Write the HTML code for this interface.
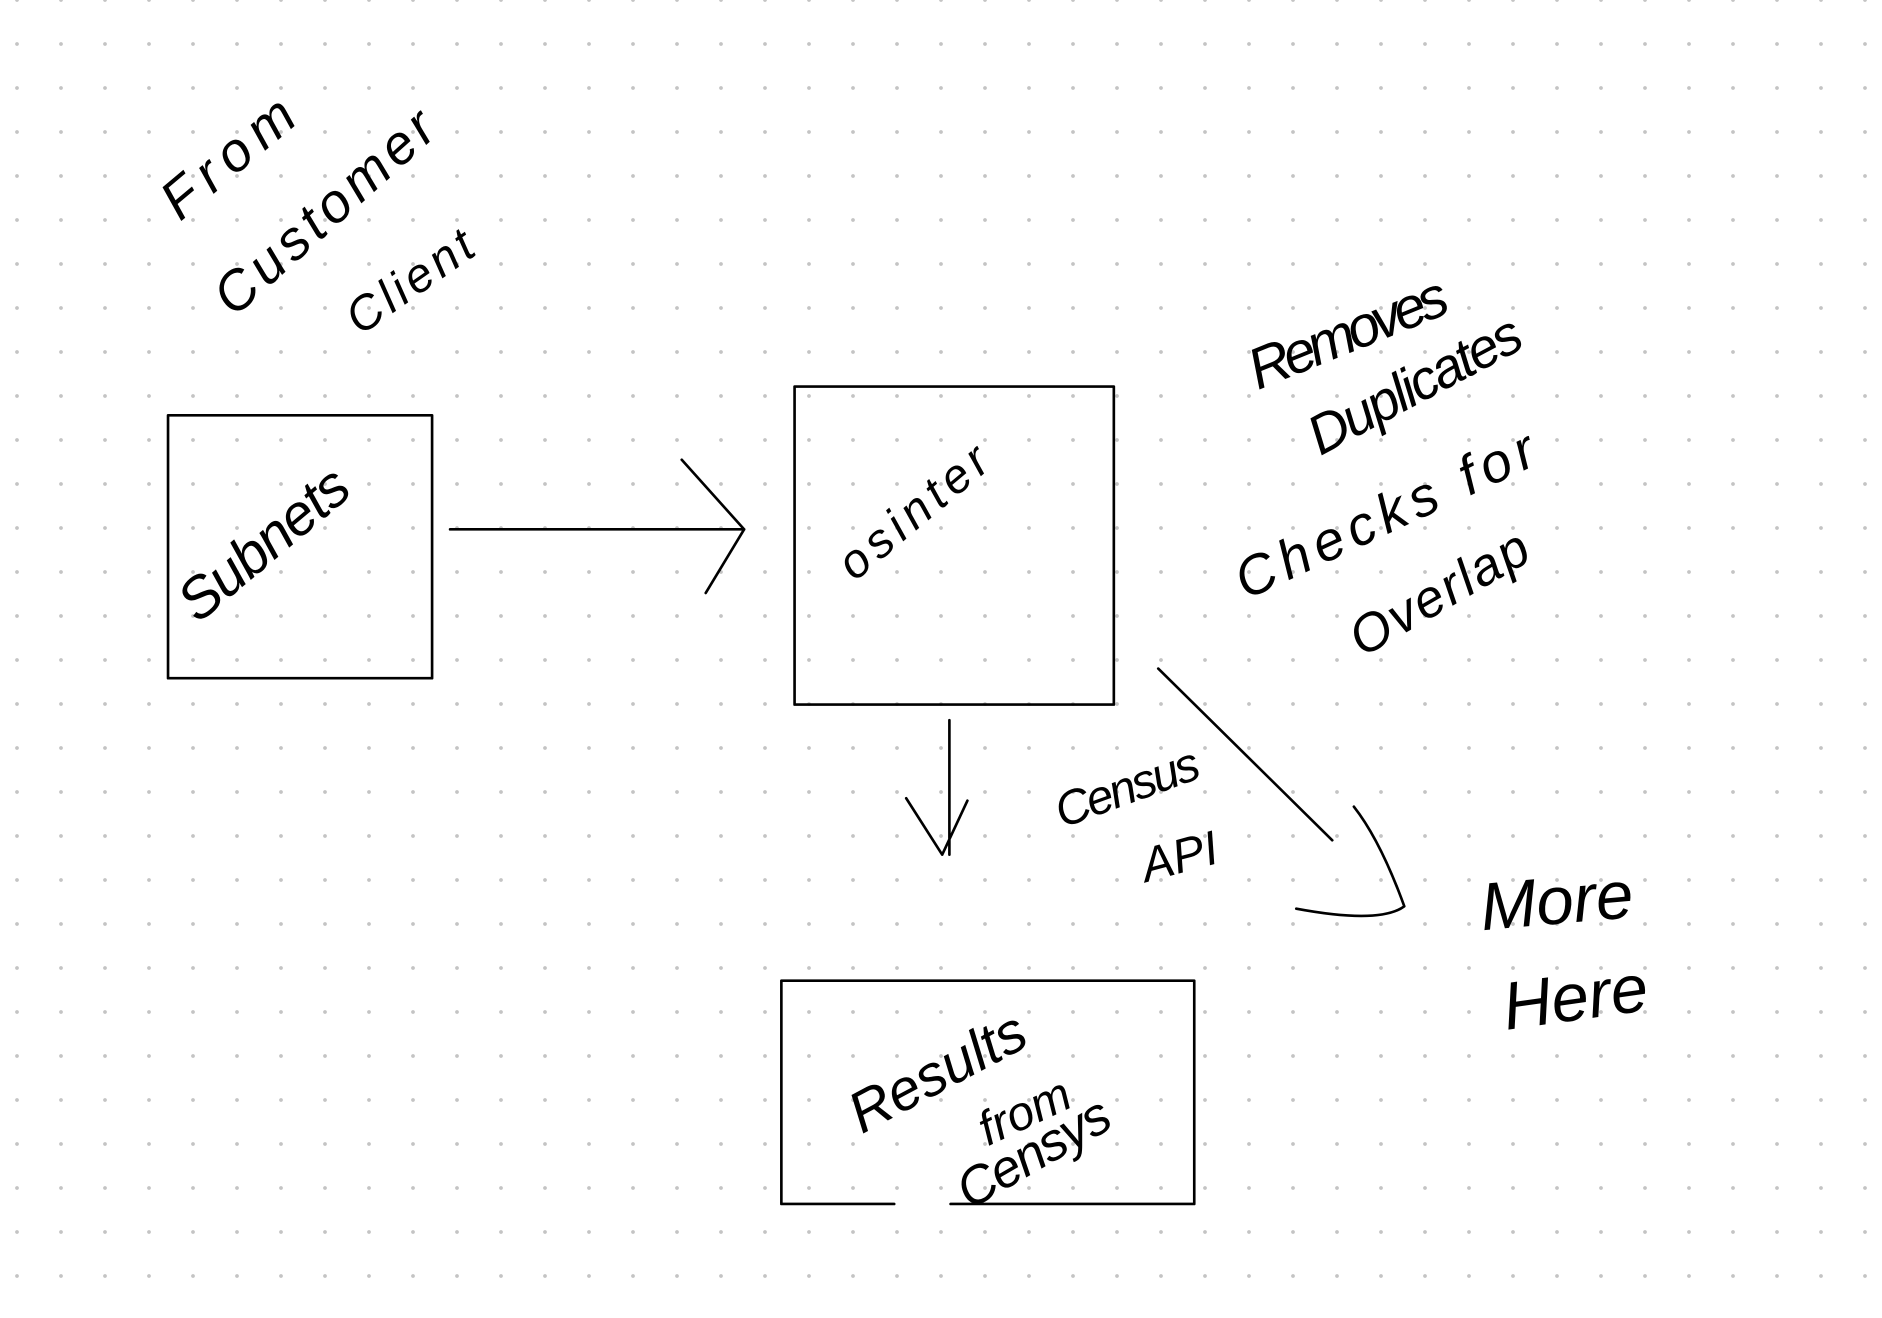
<!DOCTYPE html>
<html><head><meta charset="utf-8"><style>
html,body{margin:0;padding:0;background:#fff;}
body{width:1882px;height:1318px;overflow:hidden;
background-image:radial-gradient(circle,#c4c4c4 1.6px,transparent 2.2px);
background-size:44px 44px;background-position:-5px -22px;}
svg{position:absolute;left:0;top:0;}
text{font-family:"Liberation Sans",sans-serif;font-style:italic;fill:#000;}
</style></head><body>
<svg width="1882" height="1318" viewBox="0 0 1568 1098" preserveAspectRatio="none">
<g fill="none" stroke="#000" stroke-width="2.2" stroke-linecap="round" stroke-linejoin="round">
<rect x="140" y="346" width="220" height="219"/>
<path d="M375 441 L620 441 M568 383 L620 441 L588 494"/>
<rect x="662" y="322" width="266" height="265"/>
<path d="M791 600 L791 712 M755 665 L785 712 L806 667"/>
<path d="M965 557 L1110 700"/>
<path d="M1128 672 Q1150 700 1170 755 Q1150 770 1080 757"/>
<path d="M745 1003 L651 1003 L651 817 L995 817 L995 1003 L792 1003"/>
</g>
<g>
<text x="0" y="0" font-size="46" transform="translate(150,185) rotate(-40)" textLength="130">From</text>
<text x="0" y="0" font-size="46" transform="translate(195,265) rotate(-42)" textLength="230">Customer</text>
<text x="0" y="0" font-size="40" transform="translate(300,280) rotate(-35)" textLength="120">Client</text>
<text x="0" y="0" font-size="48" transform="translate(165,520) rotate(-40)" textLength="170">Subnets</text>
<text x="0" y="0" font-size="40" transform="translate(712,485) rotate(-40)" textLength="150">osinter</text>
<text x="0" y="0" font-size="48" transform="translate(1048,325) rotate(-22)" textLength="175">Removes</text>
<text x="0" y="0" font-size="46" transform="translate(1100,380) rotate(-28)" textLength="195">Duplicates</text>
<text x="0" y="0" font-size="46" transform="translate(1038,500) rotate(-25)" textLength="270">Checks for</text>
<text x="0" y="0" font-size="44" transform="translate(1135,548) rotate(-30)" textLength="165">Overlap</text>
<text x="0" y="0" font-size="40" transform="translate(885,690) rotate(-20)" textLength="125">Census</text>
<text x="0" y="0" font-size="40" transform="translate(955,735) rotate(-15)">API</text>
<text x="0" y="0" font-size="56" transform="translate(1235,775) rotate(-5)">More</text>
<text x="0" y="0" font-size="56" transform="translate(1255,858) rotate(-8)">Here</text>
<text x="0" y="0" font-size="48" transform="translate(718,945) rotate(-28)" textLength="160">Results</text>
<text x="0" y="0" font-size="40" transform="translate(823,955) rotate(-25)">from</text>
<text x="0" y="0" font-size="44" transform="translate(808,1008) rotate(-30)" textLength="140">Censys</text>
</g>
</svg>
</body></html>
